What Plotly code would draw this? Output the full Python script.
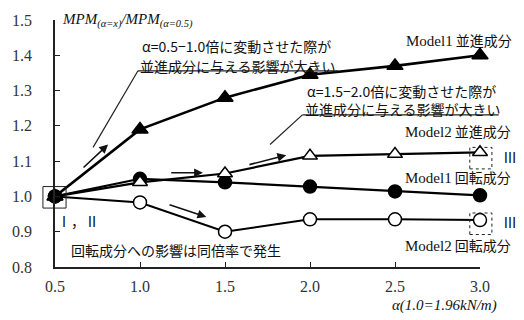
import plotly.graph_objects as go

# stiffness ratio alpha and normalised MPM for each model / component
alpha = [0.5, 1.0, 1.5, 2.0, 2.5, 3.0]
m1_trans = [1.00, 1.19, 1.28, 1.345, 1.37, 1.40]
m2_trans = [1.00, 1.04, 1.065, 1.115, 1.12, 1.125]
m1_rot = [1.00, 1.05, 1.04, 1.028, 1.014, 1.003]
m2_rot = [1.00, 0.983, 0.90, 0.935, 0.935, 0.933]

x_ticks = [0.5, 1.0, 1.5, 2.0, 2.5, 3.0]
x_ticktext = ["0.5", "1.0", "1.5", "2.0", "2.5", "3.0"]
y_ticks = [0.8, 0.9, 1.0, 1.1, 1.2, 1.3, 1.4, 1.5]
y_ticktext = ["0.8", "0.9", "1.0", "1.1", "1.2", "1.3", "1.4", "1.5"]

X_RANGE = [0.5, 3.0]
Y_RANGE = [0.8, 1.5]

SERIF = "Liberation Serif, Times New Roman, serif"
GOTHIC = "Noto Sans CJK JP, sans-serif"


def px(x):
    # data x -> axis-domain fraction (allows placing items outside the plot)
    return (x - X_RANGE[0]) / (X_RANGE[1] - X_RANGE[0])


def py(y):
    return (y - Y_RANGE[0]) / (Y_RANGE[1] - Y_RANGE[0])


XD, YD = "x domain", "y domain"

fig = go.Figure()


def series(y, symbol, fill, lw, size):
    fig.add_trace(go.Scatter(
        x=alpha, y=y, mode="lines+markers", cliponaxis=False,
        line=dict(color="black", width=lw),
        marker=dict(symbol=symbol, size=size, color=fill,
                    line=dict(color="black", width=1.5)),
        showlegend=False, hoverinfo="skip"))


series(m2_rot, "circle", "white", 2, 13)
series(m1_rot, "circle", "black", 2.2, 13)
series(m2_trans, "triangle-up", "white", 2.2, 13)
series(m1_trans, "triangle-up", "black", 2.6, 14)

ann = []


def text(x, y, s, size=14, font=GOTHIC, xanchor="left", color="#111"):
    ann.append(dict(x=px(x), y=py(y), xref=XD, yref=YD, text=s,
                    showarrow=False, xanchor=xanchor, yanchor="middle",
                    font=dict(family=font, size=size, color=color)))


def arrow(x0, y0, x1, y1):
    ann.append(dict(x=px(x1), y=py(y1), ax=px(x0), ay=py(y0),
                    xref=XD, yref=YD, axref=XD, ayref=YD,
                    text="", showarrow=True, arrowhead=2, arrowsize=1.1,
                    arrowwidth=1.6, arrowcolor="#111"))


M = "<span style='font-family:Liberation Serif;font-size:15px'>{}</span> {}"

# axis titles
text(0.53, 1.50,
     "<i>MPM</i><sub><i>(α=x)</i></sub><i>/MPM</i><sub><i>(α=0.5)</i></sub>",
     size=15, font=SERIF)
text(2.47, 0.692, "<i>α(1.0=1.96kN/m)</i>", size=15, font=SERIF)

# commentary
text(1.0, 1.427, "α=0.5−1.0倍に変動させた際が", size=14)
text(0.99, 1.370, "並進成分に与える影響が大きい", size=14)
text(1.97, 1.300, "α=1.5−2.0倍に変動させた際が", size=14)
text(1.96, 1.248, "並進成分に与える影響が大きい", size=14)
text(0.585, 0.847, "回転成分への影響は同倍率で発生", size=14)

# series labels
text(2.555, 1.442, M.format("Model1", "並進成分"), size=14)
text(2.545, 1.186, M.format("Model2", "並進成分"), size=14)
text(2.545, 1.056, M.format("Model1", "回転成分"), size=14)
text(2.545, 0.861, M.format("Model2", "回転成分"), size=14)

# case markers
text(3.125, 1.111, "Ⅲ", size=14, font=GOTHIC)
text(3.125, 0.928, "Ⅲ", size=14, font=GOTHIC)
text(0.500, 0.931, "Ⅰ，Ⅱ", size=14, font=GOTHIC)

# direction arrows
arrow(0.659, 1.078, 0.812, 1.147)
arrow(1.175, 1.067, 1.37, 1.067)
arrow(1.635, 1.089, 1.860, 1.117)
arrow(1.165, 0.978, 1.39, 0.942)

shapes = []


def seg(x0, y0, x1, y1, w=1.2):
    shapes.append(dict(type="line", xref=XD, yref=YD,
                       x0=px(x0), y0=py(y0), x1=px(x1), y1=py(y1),
                       line=dict(color="#222", width=w)))


def box(x0, y0, x1, y1, dash="solid"):
    shapes.append(dict(type="rect", xref=XD, yref=YD,
                       x0=px(x0), y0=py(y0), x1=px(x1), y1=py(y1),
                       line=dict(color="#222", width=1, dash=dash)))


# underlines and leader lines
seg(0.988, 1.356, 2.165, 1.356)
seg(0.988, 1.356, 0.724, 1.139)
seg(1.955, 1.231, 3.11, 1.231)
seg(1.955, 1.231, 1.765, 1.147)

# case boxes
box(0.429, 0.967, 0.565, 1.028)
box(2.94, 1.078, 3.07, 1.139, dash="dot")
box(2.94, 0.892, 3.07, 0.953, dash="dot")

fig.update_layout(
    width=524, height=320,
    margin=dict(l=55, r=44, t=15, b=53),
    paper_bgcolor="white", plot_bgcolor="white",
    annotations=ann, shapes=shapes,
    xaxis=dict(range=X_RANGE, tickvals=x_ticks, ticktext=x_ticktext,
               showgrid=False, zeroline=False, showline=True,
               linecolor="#222", linewidth=1.5, ticks="inside",
               ticklen=5, tickcolor="#222", ticklabelstandoff=4,
               tickfont=dict(family=SERIF, size=16, color="#333")),
    yaxis=dict(range=Y_RANGE, tickvals=y_ticks, ticktext=y_ticktext,
               showgrid=False, zeroline=False, showline=True,
               linecolor="#222", linewidth=1.5, ticks="inside",
               ticklen=5, tickcolor="#222", ticklabelstandoff=18,
               tickfont=dict(family=SERIF, size=16, color="#333")),
)

fig.write_html("out.html")
